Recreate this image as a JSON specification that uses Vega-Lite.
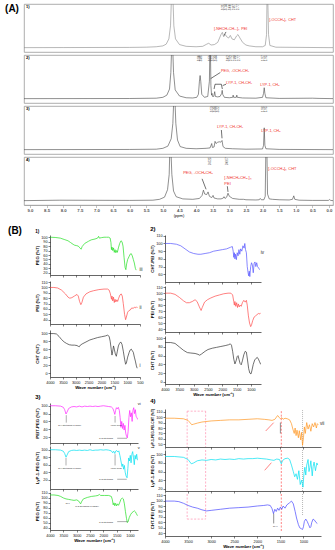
{
"$schema": "https://vega.github.io/schema/vega-lite/v6.json",
"padding": {"left": 4, "top": 3, "right": 2, "bottom": 2},
"config": {
  "font": "Liberation Sans",
  "view": {"stroke": null},
  "axis": {"grid": false, "domainColor": "#000", "domainWidth": 0.6, "tickColor": "#000", "tickWidth": 0.5, "tickSize": 2, "labelFontSize": 3.8, "labelPadding": 1, "labelColor": "#111", "titleFontSize": 4.3, "titleFontWeight": "bold", "titlePadding": 1.5, "labelOverlap": false, "labelFlush": false, "titleColor": "#000"},
  "title": {"fontSize": 6, "fontWeight": "bold", "anchor": "start", "offset": 2, "frame": "bounds"}
},
"datasets": {
  "nmr": [
    {"p":1,"x":9.18,"y":0},{"p":1,"x":8.0,"y":0.002},{"p":1,"x":6.0,"y":0.005},{"p":1,"x":5.5,"y":0.01},{"p":1,"x":5.2,"y":0.02},{"p":1,"x":5.0,"y":0.04},{"p":1,"x":4.9,"y":0.08},{"p":1,"x":4.82,"y":0.2},{"p":1,"x":4.77,"y":0.5},{"p":1,"x":4.74,"y":1.2},{"p":1,"x":4.7,"y":1.2},{"p":1,"x":4.67,"y":0.5},{"p":1,"x":4.62,"y":0.2},{"p":1,"x":4.5,"y":0.07},{"p":1,"x":4.3,"y":0.03},{"p":1,"x":4.0,"y":0.02},{"p":1,"x":3.8,"y":0.03},{"p":1,"x":3.68,"y":0.08},{"p":1,"x":3.62,"y":0.1},{"p":1,"x":3.55,"y":0.06},{"p":1,"x":3.45,"y":0.07},{"p":1,"x":3.35,"y":0.12},{"p":1,"x":3.25,"y":0.3},{"p":1,"x":3.21,"y":0.35},{"p":1,"x":3.17,"y":0.25},{"p":1,"x":3.12,"y":0.3},{"p":1,"x":3.08,"y":0.25},{"p":1,"x":3.02,"y":0.22},{"p":1,"x":2.97,"y":0.28},{"p":1,"x":2.92,"y":0.2},{"p":1,"x":2.85,"y":0.18},{"p":1,"x":2.78,"y":0.27},{"p":1,"x":2.74,"y":0.3},{"p":1,"x":2.68,"y":0.22},{"p":1,"x":2.6,"y":0.12},{"p":1,"x":2.5,"y":0.06},{"p":1,"x":2.4,"y":0.04},{"p":1,"x":2.2,"y":0.02},{"p":1,"x":2.0,"y":0.02},{"p":1,"x":1.92,"y":0.05},{"p":1,"x":1.88,"y":0.3},{"p":1,"x":1.865,"y":1.2},{"p":1,"x":1.845,"y":1.2},{"p":1,"x":1.82,"y":0.3},{"p":1,"x":1.78,"y":0.05},{"p":1,"x":1.6,"y":0.01},{"p":1,"x":0.0,"y":0.0},{"p":1,"x":-0.12,"y":0},
    {"p":2,"x":9.18,"y":0},{"p":2,"x":6,"y":0.003},{"p":2,"x":5.2,"y":0.01},{"p":2,"x":5.0,"y":0.03},{"p":2,"x":4.88,"y":0.08},{"p":2,"x":4.8,"y":0.22},{"p":2,"x":4.76,"y":0.6},{"p":2,"x":4.735,"y":1.2},{"p":2,"x":4.705,"y":1.2},{"p":2,"x":4.68,"y":0.6},{"p":2,"x":4.63,"y":0.2},{"p":2,"x":4.5,"y":0.06},{"p":2,"x":4.3,"y":0.02},{"p":2,"x":4.1,"y":0.015},{"p":2,"x":3.98,"y":0.03},{"p":2,"x":3.93,"y":0.1},{"p":2,"x":3.9,"y":0.4},{"p":2,"x":3.88,"y":0.53},{"p":2,"x":3.86,"y":0.4},{"p":2,"x":3.83,"y":0.1},{"p":2,"x":3.75,"y":0.03},{"p":2,"x":3.65,"y":0.05},{"p":2,"x":3.6,"y":0.4},{"p":2,"x":3.585,"y":1.2},{"p":2,"x":3.57,"y":1.2},{"p":2,"x":3.555,"y":0.3},{"p":2,"x":3.535,"y":0.08},{"p":2,"x":3.52,"y":0.12},{"p":2,"x":3.505,"y":0.05},{"p":2,"x":3.47,"y":0.05},{"p":2,"x":3.44,"y":0.16},{"p":2,"x":3.42,"y":0.05},{"p":2,"x":3.35,"y":0.04},{"p":2,"x":3.28,"y":0.05},{"p":2,"x":3.23,"y":0.12},{"p":2,"x":3.215,"y":0.19},{"p":2,"x":3.2,"y":0.1},{"p":2,"x":3.15,"y":0.03},{"p":2,"x":3.0,"y":0.02},{"p":2,"x":2.9,"y":0.03},{"p":2,"x":2.885,"y":0.08},{"p":2,"x":2.87,"y":0.03},{"p":2,"x":2.79,"y":0.03},{"p":2,"x":2.775,"y":0.08},{"p":2,"x":2.76,"y":0.03},{"p":2,"x":2.6,"y":0.015},{"p":2,"x":2.2,"y":0.01},{"p":2,"x":2.0,"y":0.03},{"p":2,"x":1.97,"y":0.12},{"p":2,"x":1.95,"y":0.25},{"p":2,"x":1.93,"y":0.12},{"p":2,"x":1.9,"y":0.02},{"p":2,"x":1.5,"y":0.005},{"p":2,"x":0.5,"y":0.01},{"p":2,"x":0.3,"y":0.005},{"p":2,"x":-0.12,"y":0},
    {"p":3,"x":9.18,"y":0},{"p":3,"x":6,"y":0.004},{"p":3,"x":5.2,"y":0.01},{"p":3,"x":5.0,"y":0.03},{"p":3,"x":4.85,"y":0.08},{"p":3,"x":4.75,"y":0.25},{"p":3,"x":4.7,"y":0.6},{"p":3,"x":4.67,"y":1.2},{"p":3,"x":4.64,"y":1.2},{"p":3,"x":4.61,"y":0.6},{"p":3,"x":4.56,"y":0.22},{"p":3,"x":4.48,"y":0.07},{"p":3,"x":4.3,"y":0.03},{"p":3,"x":4.0,"y":0.02},{"p":3,"x":3.7,"y":0.03},{"p":3,"x":3.58,"y":0.04},{"p":3,"x":3.53,"y":0.14},{"p":3,"x":3.51,"y":0.05},{"p":3,"x":3.46,"y":0.06},{"p":3,"x":3.43,"y":0.19},{"p":3,"x":3.4,"y":0.14},{"p":3,"x":3.35,"y":0.17},{"p":3,"x":3.3,"y":0.18},{"p":3,"x":3.26,"y":0.17},{"p":3,"x":3.22,"y":0.21},{"p":3,"x":3.19,"y":0.07},{"p":3,"x":3.12,"y":0.03},{"p":3,"x":2.9,"y":0.02},{"p":3,"x":2.5,"y":0.01},{"p":3,"x":2.0,"y":0.015},{"p":3,"x":1.97,"y":0.1},{"p":3,"x":1.95,"y":0.5},{"p":3,"x":1.93,"y":0.1},{"p":3,"x":1.9,"y":0.02},{"p":3,"x":1.5,"y":0.005},{"p":3,"x":-0.12,"y":0},
    {"p":4,"x":9.18,"y":0},{"p":4,"x":8.1,"y":0.01},{"p":4,"x":6,"y":0.005},{"p":4,"x":5.3,"y":0.01},{"p":4,"x":5.1,"y":0.03},{"p":4,"x":4.95,"y":0.08},{"p":4,"x":4.86,"y":0.25},{"p":4,"x":4.81,"y":0.6},{"p":4,"x":4.79,"y":1.2},{"p":4,"x":4.76,"y":1.2},{"p":4,"x":4.73,"y":0.6},{"p":4,"x":4.68,"y":0.22},{"p":4,"x":4.6,"y":0.09},{"p":4,"x":4.4,"y":0.04},{"p":4,"x":4.1,"y":0.03},{"p":4,"x":3.9,"y":0.05},{"p":4,"x":3.82,"y":0.12},{"p":4,"x":3.78,"y":0.24},{"p":4,"x":3.74,"y":0.15},{"p":4,"x":3.68,"y":0.14},{"p":4,"x":3.64,"y":0.2},{"p":4,"x":3.6,"y":0.1},{"p":4,"x":3.53,"y":0.07},{"p":4,"x":3.49,"y":0.12},{"p":4,"x":3.46,"y":0.06},{"p":4,"x":3.35,"y":0.04},{"p":4,"x":3.25,"y":0.04},{"p":4,"x":3.18,"y":0.06},{"p":4,"x":3.16,"y":0.09},{"p":4,"x":3.13,"y":0.05},{"p":4,"x":3.08,"y":0.08},{"p":4,"x":3.04,"y":0.17},{"p":4,"x":3.0,"y":0.1},{"p":4,"x":2.9,"y":0.05},{"p":4,"x":2.7,"y":0.03},{"p":4,"x":2.57,"y":0.03},{"p":4,"x":2.5,"y":0.02},{"p":4,"x":2.2,"y":0.015},{"p":4,"x":2.1,"y":0.02},{"p":4,"x":2.07,"y":0.05},{"p":4,"x":2.04,"y":0.02},{"p":4,"x":1.96,"y":0.02},{"p":4,"x":1.92,"y":0.1},{"p":4,"x":1.9,"y":1.2},{"p":4,"x":1.87,"y":1.2},{"p":4,"x":1.85,"y":0.15},{"p":4,"x":1.8,"y":0.04},{"p":4,"x":1.7,"y":0.03},{"p":4,"x":1.5,"y":0.02},{"p":4,"x":1.2,"y":0.015},{"p":4,"x":1.1,"y":0.03},{"p":4,"x":1.06,"y":0.11},{"p":4,"x":1.03,"y":0.03},{"p":4,"x":0.9,"y":0.01},{"p":4,"x":0.5,"y":0.005},{"p":4,"x":0.02,"y":0.005},{"p":4,"x":-0.02,"y":0.025},{"p":4,"x":-0.05,"y":0.005},{"p":4,"x":-0.12,"y":0}
  ],
  "nmrLab": [
    {"p":1,"x":3.46,"y":0.43,"t":"[-NHCH₂CH₂-]ₙ PEI"},
    {"p":1,"x":1.8,"y":0.63,"t":"[-OCCH₃]ₙ CHT"},
    {"p":2,"x":3.25,"y":0.63,"t":"PEG, -OCH₂CH₂"},
    {"p":2,"x":3.1,"y":0.36,"t":"LYP-1, CH₂CH₂"},
    {"p":2,"x":2.07,"y":0.31,"t":"LYP-1, CH₃"},
    {"p":3,"x":3.37,"y":0.52,"t":"LYP-1, CH₂CH₂"},
    {"p":3,"x":2.04,"y":0.43,"t":"LYP-1, CH₃"},
    {"p":4,"x":4.39,"y":0.63,"t":"PEG, -OCH₂CH₂"},
    {"p":4,"x":3.15,"y":0.52,"t":"[-NHCH₂CH₂-]ₙ"},
    {"p":4,"x":3.15,"y":0.38,"t":"PEI"},
    {"p":4,"x":1.83,"y":0.72,"t":"[-OCCH₃]ₙ CHT"}
  ],
  "nmrNum": [
    {"p":1,"x":3.19,"y":0.99,"t":"3.21"},{"p":1,"x":3.1,"y":0.99,"t":"3.14"},{"p":1,"x":2.98,"y":0.99,"t":"3.00"},{"p":1,"x":2.86,"y":0.99,"t":"2.87"},{"p":1,"x":2.76,"y":0.99,"t":"2.77"},
    {"p":2,"x":3.91,"y":0.99,"t":"3.90"},{"p":2,"x":3.85,"y":0.99,"t":"3.86"},{"p":2,"x":3.58,"y":0.99,"t":"3.59"},{"p":2,"x":3.5,"y":0.99,"t":"3.52"},{"p":2,"x":3.42,"y":0.99,"t":"3.44"},{"p":2,"x":3.04,"y":0.99,"t":"3.02"},{"p":2,"x":2.95,"y":0.99,"t":"2.92"},{"p":2,"x":2.83,"y":0.99,"t":"2.88"},{"p":2,"x":2.72,"y":0.99,"t":"2.77"},{"p":2,"x":2.0,"y":0.99,"t":"1.97"},{"p":2,"x":1.91,"y":0.99,"t":"1.95"},
    {"p":3,"x":3.52,"y":0.99,"t":"3.53"},{"p":3,"x":3.43,"y":0.99,"t":"3.44"},{"p":3,"x":3.34,"y":0.99,"t":"3.22"},{"p":3,"x":2.0,"y":0.99,"t":"1.96"},{"p":3,"x":1.92,"y":0.99,"t":"1.95"},
    {"p":4,"x":3.58,"y":0.99,"t":"3.625"},{"p":4,"x":3.07,"y":0.99,"t":"3.067"}
  ],
  "nmrArrow": [
    {"p":1,"x":3.1,"y":0.36,"x2":3.16,"y2":0.28},
    {"p":2,"x":3.27,"y":0.6,"x2":3.56,"y2":0.46},
    {"p":2,"x":3.46,"y":0.22,"x2":3.43,"y2":0.33},{"p":2,"x":3.43,"y":0.33,"x2":3.24,"y2":0.33},{"p":2,"x":3.24,"y":0.33,"x2":3.21,"y2":0.22},{"p":2,"x":3.1,"y":0.33,"x2":3.2,"y2":0.3},
    {"p":3,"x":3.24,"y":0.45,"x2":3.22,"y2":0.26},
    {"p":4,"x":3.82,"y":0.5,"x2":3.7,"y2":0.26},{"p":4,"x":3.06,"y":0.33,"x2":3.04,"y2":0.2}
  ],
  "nmrPanel": [
    {"p":1,"x":9.12,"y":0.97,"t":"1)"},{"p":2,"x":9.12,"y":0.97,"t":"2)"},{"p":3,"x":9.12,"y":0.97,"t":"3)"},{"p":4,"x":9.12,"y":0.97,"t":"4)"}
  ],
  "ftir": [
    {"s":"1a","x":4000,"y":100},{"s":"1a","x":3800,"y":99.5},{"s":"1a","x":3600,"y":98},{"s":"1a","x":3450,"y":95},{"s":"1a","x":3300,"y":92},{"s":"1a","x":3200,"y":88},{"s":"1a","x":3100,"y":84},{"s":"1a","x":3040,"y":82},{"s":"1a","x":2960,"y":81},{"s":"1a","x":2900,"y":80},{"s":"1a","x":2840,"y":76},{"s":"1a","x":2790,"y":73},{"s":"1a","x":2750,"y":79},{"s":"1a","x":2650,"y":86},{"s":"1a","x":2500,"y":91},{"s":"1a","x":2400,"y":94},{"s":"1a","x":2250,"y":96},{"s":"1a","x":2150,"y":98},{"s":"1a","x":2110,"y":102},{"s":"1a","x":2080,"y":98},{"s":"1a","x":2000,"y":99},{"s":"1a","x":1900,"y":100},{"s":"1a","x":1800,"y":100},{"s":"1a","x":1720,"y":100},{"s":"1a","x":1660,"y":98},{"s":"1a","x":1630,"y":88},{"s":"1a","x":1610,"y":72},{"s":"1a","x":1590,"y":78},{"s":"1a","x":1560,"y":70},{"s":"1a","x":1530,"y":76},{"s":"1a","x":1500,"y":66},{"s":"1a","x":1470,"y":72},{"s":"1a","x":1440,"y":65},{"s":"1a","x":1410,"y":70},{"s":"1a","x":1380,"y":66},{"s":"1a","x":1340,"y":76},{"s":"1a","x":1290,"y":86},{"s":"1a","x":1240,"y":92},{"s":"1a","x":1200,"y":90},{"s":"1a","x":1160,"y":80},{"s":"1a","x":1120,"y":55},{"s":"1a","x":1080,"y":32},{"s":"1a","x":1050,"y":27},{"s":"1a","x":1020,"y":40},{"s":"1a","x":980,"y":50},{"s":"1a","x":930,"y":56},{"s":"1a","x":880,"y":62},{"s":"1a","x":840,"y":63},{"s":"1a","x":800,"y":58},{"s":"1a","x":760,"y":50},{"s":"1a","x":720,"y":42},{"s":"1a","x":680,"y":30},{"s":"1a","x":650,"y":26},
    {"s":"1b","x":4000,"y":100},{"s":"1b","x":3850,"y":100},{"s":"1b","x":3700,"y":99},{"s":"1b","x":3550,"y":95},{"s":"1b","x":3400,"y":88},{"s":"1b","x":3300,"y":82},{"s":"1b","x":3230,"y":80},{"s":"1b","x":3150,"y":81},{"s":"1b","x":3050,"y":84},{"s":"1b","x":2950,"y":87},{"s":"1b","x":2900,"y":84},{"s":"1b","x":2850,"y":74},{"s":"1b","x":2800,"y":68},{"s":"1b","x":2760,"y":72},{"s":"1b","x":2700,"y":82},{"s":"1b","x":2600,"y":88},{"s":"1b","x":2450,"y":92},{"s":"1b","x":2300,"y":94},{"s":"1b","x":2100,"y":96},{"s":"1b","x":1900,"y":97},{"s":"1b","x":1760,"y":97},{"s":"1b","x":1700,"y":95},{"s":"1b","x":1650,"y":88},{"s":"1b","x":1610,"y":78},{"s":"1b","x":1590,"y":84},{"s":"1b","x":1560,"y":75},{"s":"1b","x":1530,"y":82},{"s":"1b","x":1500,"y":72},{"s":"1b","x":1470,"y":78},{"s":"1b","x":1440,"y":73},{"s":"1b","x":1400,"y":77},{"s":"1b","x":1370,"y":74},{"s":"1b","x":1330,"y":80},{"s":"1b","x":1280,"y":86},{"s":"1b","x":1230,"y":88},{"s":"1b","x":1190,"y":84},{"s":"1b","x":1150,"y":70},{"s":"1b","x":1100,"y":50},{"s":"1b","x":1060,"y":40},{"s":"1b","x":1030,"y":45},{"s":"1b","x":980,"y":54},{"s":"1b","x":930,"y":57},{"s":"1b","x":880,"y":58},{"s":"1b","x":820,"y":62},{"s":"1b","x":770,"y":61},{"s":"1b","x":720,"y":63},{"s":"1b","x":680,"y":62},{"s":"1b","x":640,"y":64},{"s":"1b","x":600,"y":62},
    {"s":"1c","x":4000,"y":99},{"s":"1c","x":3850,"y":99},{"s":"1c","x":3750,"y":98},{"s":"1c","x":3650,"y":92},{"s":"1c","x":3550,"y":84},{"s":"1c","x":3450,"y":78},{"s":"1c","x":3350,"y":74},{"s":"1c","x":3250,"y":71},{"s":"1c","x":3150,"y":70},{"s":"1c","x":3050,"y":70},{"s":"1c","x":2950,"y":69},{"s":"1c","x":2900,"y":67},{"s":"1c","x":2860,"y":66},{"s":"1c","x":2820,"y":70},{"s":"1c","x":2750,"y":73},{"s":"1c","x":2600,"y":78},{"s":"1c","x":2450,"y":83},{"s":"1c","x":2300,"y":86},{"s":"1c","x":2150,"y":89},{"s":"1c","x":2000,"y":91},{"s":"1c","x":1850,"y":93},{"s":"1c","x":1760,"y":95},{"s":"1c","x":1700,"y":92},{"s":"1c","x":1660,"y":80},{"s":"1c","x":1620,"y":60},{"s":"1c","x":1590,"y":45},{"s":"1c","x":1560,"y":55},{"s":"1c","x":1530,"y":68},{"s":"1c","x":1500,"y":60},{"s":"1c","x":1460,"y":48},{"s":"1c","x":1420,"y":42},{"s":"1c","x":1380,"y":55},{"s":"1c","x":1340,"y":68},{"s":"1c","x":1300,"y":74},{"s":"1c","x":1250,"y":78},{"s":"1c","x":1200,"y":72},{"s":"1c","x":1150,"y":55},{"s":"1c","x":1100,"y":35},{"s":"1c","x":1060,"y":22},{"s":"1c","x":1030,"y":25},{"s":"1c","x":980,"y":40},{"s":"1c","x":920,"y":52},{"s":"1c","x":880,"y":58},{"s":"1c","x":840,"y":60},{"s":"1c","x":800,"y":56},{"s":"1c","x":760,"y":52},{"s":"1c","x":720,"y":40},{"s":"1c","x":680,"y":30},{"s":"1c","x":640,"y":18},{"s":"1c","x":610,"y":12},
    {"s":"2a","x":4000,"y":100},{"s":"2a","x":3800,"y":100},{"s":"2a","x":3600,"y":99},{"s":"2a","x":3450,"y":97},{"s":"2a","x":3300,"y":93},{"s":"2a","x":3150,"y":89},{"s":"2a","x":3000,"y":87},{"s":"2a","x":2850,"y":86},{"s":"2a","x":2750,"y":86},{"s":"2a","x":2600,"y":87},{"s":"2a","x":2450,"y":88},{"s":"2a","x":2300,"y":90},{"s":"2a","x":2150,"y":91},{"s":"2a","x":2000,"y":92},{"s":"2a","x":1850,"y":93},{"s":"2a","x":1720,"y":95},{"s":"2a","x":1650,"y":96},{"s":"2a","x":1620,"y":90},{"s":"2a","x":1600,"y":82},{"s":"2a","x":1580,"y":88},{"s":"2a","x":1560,"y":80},{"s":"2a","x":1540,"y":86},{"s":"2a","x":1510,"y":79},{"s":"2a","x":1480,"y":88},{"s":"2a","x":1450,"y":84},{"s":"2a","x":1420,"y":92},{"s":"2a","x":1390,"y":86},{"s":"2a","x":1360,"y":93},{"s":"2a","x":1320,"y":90},{"s":"2a","x":1280,"y":97},{"s":"2a","x":1240,"y":94},{"s":"2a","x":1215,"y":100},{"s":"2a","x":1190,"y":92},{"s":"2a","x":1160,"y":88},{"s":"2a","x":1130,"y":70},{"s":"2a","x":1100,"y":62},{"s":"2a","x":1080,"y":58},{"s":"2a","x":1060,"y":64},{"s":"2a","x":1040,"y":57},{"s":"2a","x":1010,"y":70},{"s":"2a","x":980,"y":75},{"s":"2a","x":950,"y":72},{"s":"2a","x":920,"y":62},{"s":"2a","x":890,"y":74},{"s":"2a","x":860,"y":76},{"s":"2a","x":830,"y":70},{"s":"2a","x":800,"y":75},{"s":"2a","x":770,"y":70},{"s":"2a","x":730,"y":68},{"s":"2a","x":700,"y":66},
    {"s":"2b","x":4000,"y":100},{"s":"2b","x":3800,"y":100},{"s":"2b","x":3650,"y":98},{"s":"2b","x":3500,"y":93},{"s":"2b","x":3350,"y":87},{"s":"2b","x":3250,"y":84},{"s":"2b","x":3150,"y":84},{"s":"2b","x":3050,"y":86},{"s":"2b","x":2950,"y":89},{"s":"2b","x":2880,"y":86},{"s":"2b","x":2800,"y":77},{"s":"2b","x":2740,"y":71},{"s":"2b","x":2700,"y":76},{"s":"2b","x":2620,"y":85},{"s":"2b","x":2520,"y":89},{"s":"2b","x":2400,"y":92},{"s":"2b","x":2250,"y":95},{"s":"2b","x":2100,"y":97},{"s":"2b","x":1950,"y":99},{"s":"2b","x":1800,"y":100},{"s":"2b","x":1700,"y":100},{"s":"2b","x":1640,"y":97},{"s":"2b","x":1600,"y":86},{"s":"2b","x":1580,"y":80},{"s":"2b","x":1560,"y":86},{"s":"2b","x":1530,"y":78},{"s":"2b","x":1500,"y":84},{"s":"2b","x":1470,"y":76},{"s":"2b","x":1440,"y":82},{"s":"2b","x":1410,"y":77},{"s":"2b","x":1380,"y":80},{"s":"2b","x":1340,"y":78},{"s":"2b","x":1300,"y":84},{"s":"2b","x":1250,"y":88},{"s":"2b","x":1200,"y":85},{"s":"2b","x":1160,"y":88},{"s":"2b","x":1130,"y":80},{"s":"2b","x":1090,"y":62},{"s":"2b","x":1050,"y":50},{"s":"2b","x":1010,"y":44},{"s":"2b","x":980,"y":47},{"s":"2b","x":940,"y":54},{"s":"2b","x":890,"y":60},{"s":"2b","x":840,"y":62},{"s":"2b","x":790,"y":64},{"s":"2b","x":740,"y":66},{"s":"2b","x":700,"y":65},{"s":"2b","x":670,"y":67},
    {"s":"2c","x":4000,"y":90},{"s":"2c","x":3800,"y":90},{"s":"2c","x":3650,"y":88},{"s":"2c","x":3500,"y":80},{"s":"2c","x":3350,"y":72},{"s":"2c","x":3220,"y":67},{"s":"2c","x":3100,"y":66},{"s":"2c","x":2950,"y":65},{"s":"2c","x":2850,"y":63},{"s":"2c","x":2790,"y":61},{"s":"2c","x":2720,"y":64},{"s":"2c","x":2600,"y":70},{"s":"2c","x":2500,"y":74},{"s":"2c","x":2350,"y":77},{"s":"2c","x":2200,"y":79},{"s":"2c","x":2050,"y":81},{"s":"2c","x":1900,"y":83},{"s":"2c","x":1780,"y":85},{"s":"2c","x":1720,"y":87},{"s":"2c","x":1680,"y":84},{"s":"2c","x":1640,"y":70},{"s":"2c","x":1600,"y":52},{"s":"2c","x":1560,"y":41},{"s":"2c","x":1520,"y":48},{"s":"2c","x":1480,"y":58},{"s":"2c","x":1450,"y":60},{"s":"2c","x":1420,"y":52},{"s":"2c","x":1380,"y":42},{"s":"2c","x":1340,"y":39},{"s":"2c","x":1300,"y":48},{"s":"2c","x":1250,"y":62},{"s":"2c","x":1200,"y":70},{"s":"2c","x":1160,"y":68},{"s":"2c","x":1120,"y":50},{"s":"2c","x":1080,"y":30},{"s":"2c","x":1040,"y":20},{"s":"2c","x":1000,"y":18},{"s":"2c","x":970,"y":25},{"s":"2c","x":920,"y":40},{"s":"2c","x":870,"y":50},{"s":"2c","x":820,"y":54},{"s":"2c","x":780,"y":56},{"s":"2c","x":740,"y":52},{"s":"2c","x":700,"y":46},{"s":"2c","x":660,"y":40},
    {"s":"3a","x":4000,"y":100},{"s":"3a","x":3800,"y":100},{"s":"3a","x":3600,"y":99},{"s":"3a","x":3500,"y":96},{"s":"3a","x":3450,"y":90},{"s":"3a","x":3400,"y":79},{"s":"3a","x":3360,"y":84},{"s":"3a","x":3300,"y":93},{"s":"3a","x":3200,"y":97},{"s":"3a","x":3100,"y":98},{"s":"3a","x":3000,"y":97},{"s":"3a","x":2900,"y":99},{"s":"3a","x":2800,"y":97},{"s":"3a","x":2700,"y":99},{"s":"3a","x":2600,"y":98},{"s":"3a","x":2500,"y":99},{"s":"3a","x":2400,"y":98},{"s":"3a","x":2300,"y":99},{"s":"3a","x":2200,"y":98},{"s":"3a","x":2100,"y":99},{"s":"3a","x":2000,"y":100},{"s":"3a","x":1900,"y":99},{"s":"3a","x":1800,"y":98},{"s":"3a","x":1700,"y":97},{"s":"3a","x":1640,"y":93},{"s":"3a","x":1600,"y":85},{"s":"3a","x":1570,"y":78},{"s":"3a","x":1540,"y":88},{"s":"3a","x":1510,"y":95},{"s":"3a","x":1480,"y":92},{"s":"3a","x":1440,"y":96},{"s":"3a","x":1400,"y":88},{"s":"3a","x":1370,"y":70},{"s":"3a","x":1340,"y":45},{"s":"3a","x":1310,"y":60},{"s":"3a","x":1280,"y":42},{"s":"3a","x":1250,"y":55},{"s":"3a","x":1220,"y":38},{"s":"3a","x":1190,"y":50},{"s":"3a","x":1160,"y":30},{"s":"3a","x":1130,"y":22},{"s":"3a","x":1100,"y":18},{"s":"3a","x":1070,"y":35},{"s":"3a","x":1040,"y":70},{"s":"3a","x":1010,"y":88},{"s":"3a","x":980,"y":72},{"s":"3a","x":950,"y":82},{"s":"3a","x":920,"y":60},{"s":"3a","x":890,"y":88},{"s":"3a","x":860,"y":95},{"s":"3a","x":830,"y":80},{"s":"3a","x":800,"y":90},{"s":"3a","x":770,"y":72},{"s":"3a","x":740,"y":70},{"s":"3a","x":710,"y":65},
    {"s":"3b","x":4000,"y":100},{"s":"3b","x":3800,"y":100},{"s":"3b","x":3600,"y":99},{"s":"3b","x":3500,"y":96},{"s":"3b","x":3450,"y":90},{"s":"3b","x":3400,"y":80},{"s":"3b","x":3360,"y":86},{"s":"3b","x":3300,"y":95},{"s":"3b","x":3200,"y":98},{"s":"3b","x":3100,"y":99},{"s":"3b","x":3000,"y":98},{"s":"3b","x":2900,"y":99},{"s":"3b","x":2800,"y":98},{"s":"3b","x":2700,"y":99},{"s":"3b","x":2600,"y":98},{"s":"3b","x":2500,"y":100},{"s":"3b","x":2400,"y":98},{"s":"3b","x":2300,"y":99},{"s":"3b","x":2200,"y":99},{"s":"3b","x":2100,"y":100},{"s":"3b","x":2000,"y":99},{"s":"3b","x":1900,"y":100},{"s":"3b","x":1800,"y":99},{"s":"3b","x":1700,"y":97},{"s":"3b","x":1650,"y":92},{"s":"3b","x":1610,"y":96},{"s":"3b","x":1570,"y":90},{"s":"3b","x":1540,"y":96},{"s":"3b","x":1500,"y":98},{"s":"3b","x":1460,"y":94},{"s":"3b","x":1420,"y":97},{"s":"3b","x":1380,"y":85},{"s":"3b","x":1340,"y":70},{"s":"3b","x":1300,"y":55},{"s":"3b","x":1270,"y":62},{"s":"3b","x":1240,"y":48},{"s":"3b","x":1210,"y":58},{"s":"3b","x":1180,"y":40},{"s":"3b","x":1150,"y":30},{"s":"3b","x":1110,"y":25},{"s":"3b","x":1080,"y":50},{"s":"3b","x":1050,"y":78},{"s":"3b","x":1020,"y":70},{"s":"3b","x":990,"y":85},{"s":"3b","x":960,"y":65},{"s":"3b","x":930,"y":88},{"s":"3b","x":900,"y":95},{"s":"3b","x":870,"y":80},{"s":"3b","x":840,"y":60},{"s":"3b","x":810,"y":85},{"s":"3b","x":780,"y":75},{"s":"3b","x":750,"y":88},{"s":"3b","x":720,"y":72},
    {"s":"3c","x":4000,"y":106},{"s":"3c","x":3850,"y":106},{"s":"3c","x":3700,"y":105},{"s":"3c","x":3600,"y":103},{"s":"3c","x":3500,"y":100},{"s":"3c","x":3400,"y":98},{"s":"3c","x":3300,"y":97},{"s":"3c","x":3200,"y":96},{"s":"3c","x":3100,"y":95},{"s":"3c","x":3000,"y":96},{"s":"3c","x":2930,"y":94},{"s":"3c","x":2880,"y":90},{"s":"3c","x":2850,"y":88},{"s":"3c","x":2820,"y":92},{"s":"3c","x":2750,"y":98},{"s":"3c","x":2600,"y":101},{"s":"3c","x":2450,"y":103},{"s":"3c","x":2300,"y":104},{"s":"3c","x":2200,"y":105},{"s":"3c","x":2150,"y":107},{"s":"3c","x":2100,"y":105},{"s":"3c","x":1950,"y":105},{"s":"3c","x":1800,"y":105},{"s":"3c","x":1700,"y":103},{"s":"3c","x":1660,"y":96},{"s":"3c","x":1630,"y":86},{"s":"3c","x":1600,"y":90},{"s":"3c","x":1570,"y":84},{"s":"3c","x":1540,"y":89},{"s":"3c","x":1500,"y":84},{"s":"3c","x":1470,"y":88},{"s":"3c","x":1430,"y":85},{"s":"3c","x":1390,"y":90},{"s":"3c","x":1340,"y":97},{"s":"3c","x":1290,"y":100},{"s":"3c","x":1250,"y":98},{"s":"3c","x":1210,"y":88},{"s":"3c","x":1170,"y":72},{"s":"3c","x":1130,"y":58},{"s":"3c","x":1100,"y":50},{"s":"3c","x":1070,"y":52},{"s":"3c","x":1030,"y":60},{"s":"3c","x":980,"y":66},{"s":"3c","x":930,"y":70},{"s":"3c","x":880,"y":72},{"s":"3c","x":840,"y":74},{"s":"3c","x":800,"y":72},{"s":"3c","x":760,"y":68},{"s":"3c","x":720,"y":64},
    {"s":"4a","x":4000,"y":98},{"s":"4a","x":3800,"y":98},{"s":"4a","x":3600,"y":97},{"s":"4a","x":3500,"y":94},{"s":"4a","x":3420,"y":86},{"s":"4a","x":3380,"y":87},{"s":"4a","x":3300,"y":89},{"s":"4a","x":3200,"y":91},{"s":"4a","x":3000,"y":93},{"s":"4a","x":2800,"y":94},{"s":"4a","x":2600,"y":95},{"s":"4a","x":2400,"y":95},{"s":"4a","x":2200,"y":96},{"s":"4a","x":2000,"y":97},{"s":"4a","x":1850,"y":96},{"s":"4a","x":1750,"y":95},{"s":"4a","x":1680,"y":94},{"s":"4a","x":1620,"y":96},{"s":"4a","x":1560,"y":103},{"s":"4a","x":1530,"y":100},{"s":"4a","x":1500,"y":97},{"s":"4a","x":1470,"y":99},{"s":"4a","x":1440,"y":96},{"s":"4a","x":1400,"y":98},{"s":"4a","x":1350,"y":97},{"s":"4a","x":1300,"y":95},{"s":"4a","x":1260,"y":88},{"s":"4a","x":1230,"y":78},{"s":"4a","x":1200,"y":70},{"s":"4a","x":1180,"y":80},{"s":"4a","x":1160,"y":66},{"s":"4a","x":1140,"y":76},{"s":"4a","x":1110,"y":62},{"s":"4a","x":1090,"y":75},{"s":"4a","x":1060,"y":58},{"s":"4a","x":1040,"y":72},{"s":"4a","x":1020,"y":48},{"s":"4a","x":1000,"y":62},{"s":"4a","x":980,"y":82},{"s":"4a","x":960,"y":70},{"s":"4a","x":930,"y":90},{"s":"4a","x":900,"y":78},{"s":"4a","x":870,"y":86},{"s":"4a","x":840,"y":74},{"s":"4a","x":810,"y":88},{"s":"4a","x":780,"y":82},{"s":"4a","x":750,"y":90},{"s":"4a","x":720,"y":80},{"s":"4a","x":700,"y":88},{"s":"4a","x":680,"y":86},
    {"s":"4b","x":4000,"y":95},{"s":"4b","x":3800,"y":95},{"s":"4b","x":3600,"y":93},{"s":"4b","x":3500,"y":88},{"s":"4b","x":3430,"y":78},{"s":"4b","x":3380,"y":80},{"s":"4b","x":3300,"y":85},{"s":"4b","x":3200,"y":87},{"s":"4b","x":3100,"y":86},{"s":"4b","x":3000,"y":88},{"s":"4b","x":2900,"y":87},{"s":"4b","x":2800,"y":89},{"s":"4b","x":2700,"y":88},{"s":"4b","x":2600,"y":89},{"s":"4b","x":2500,"y":88},{"s":"4b","x":2400,"y":90},{"s":"4b","x":2300,"y":89},{"s":"4b","x":2200,"y":90},{"s":"4b","x":2100,"y":90},{"s":"4b","x":2000,"y":91},{"s":"4b","x":1900,"y":90},{"s":"4b","x":1800,"y":89},{"s":"4b","x":1700,"y":87},{"s":"4b","x":1640,"y":86},{"s":"4b","x":1580,"y":89},{"s":"4b","x":1520,"y":88},{"s":"4b","x":1480,"y":78},{"s":"4b","x":1450,"y":86},{"s":"4b","x":1400,"y":90},{"s":"4b","x":1340,"y":91},{"s":"4b","x":1300,"y":88},{"s":"4b","x":1260,"y":75},{"s":"4b","x":1220,"y":60},{"s":"4b","x":1190,"y":48},{"s":"4b","x":1160,"y":55},{"s":"4b","x":1130,"y":42},{"s":"4b","x":1100,"y":62},{"s":"4b","x":1070,"y":30},{"s":"4b","x":1040,"y":40},{"s":"4b","x":1010,"y":24},{"s":"4b","x":990,"y":55},{"s":"4b","x":970,"y":70},{"s":"4b","x":950,"y":52},{"s":"4b","x":930,"y":75},{"s":"4b","x":900,"y":88},{"s":"4b","x":880,"y":60},{"s":"4b","x":860,"y":70},{"s":"4b","x":840,"y":85},{"s":"4b","x":810,"y":50},{"s":"4b","x":790,"y":72},{"s":"4b","x":770,"y":82},{"s":"4b","x":740,"y":62},{"s":"4b","x":710,"y":80},{"s":"4b","x":690,"y":75},
    {"s":"4c","x":4000,"y":99},{"s":"4c","x":3800,"y":99},{"s":"4c","x":3700,"y":98},{"s":"4c","x":3600,"y":95},{"s":"4c","x":3500,"y":91},{"s":"4c","x":3400,"y":88},{"s":"4c","x":3300,"y":86},{"s":"4c","x":3200,"y":83},{"s":"4c","x":3100,"y":81},{"s":"4c","x":3000,"y":82},{"s":"4c","x":2800,"y":84},{"s":"4c","x":2600,"y":86},{"s":"4c","x":2400,"y":87},{"s":"4c","x":2200,"y":88},{"s":"4c","x":2000,"y":90},{"s":"4c","x":1860,"y":91},{"s":"4c","x":1780,"y":92},{"s":"4c","x":1720,"y":91},{"s":"4c","x":1680,"y":85},{"s":"4c","x":1650,"y":76},{"s":"4c","x":1620,"y":84},{"s":"4c","x":1590,"y":80},{"s":"4c","x":1560,"y":86},{"s":"4c","x":1530,"y":82},{"s":"4c","x":1500,"y":88},{"s":"4c","x":1470,"y":84},{"s":"4c","x":1440,"y":90},{"s":"4c","x":1400,"y":86},{"s":"4c","x":1360,"y":92},{"s":"4c","x":1300,"y":96},{"s":"4c","x":1260,"y":99},{"s":"4c","x":1220,"y":94},{"s":"4c","x":1180,"y":80},{"s":"4c","x":1150,"y":68},{"s":"4c","x":1110,"y":56},{"s":"4c","x":1080,"y":50},{"s":"4c","x":1040,"y":48},{"s":"4c","x":1020,"y":47},{"s":"4c","x":1000,"y":52},{"s":"4c","x":980,"y":62},{"s":"4c","x":950,"y":66},{"s":"4c","x":920,"y":62},{"s":"4c","x":890,"y":56},{"s":"4c","x":860,"y":50},{"s":"4c","x":840,"y":52},{"s":"4c","x":820,"y":60},{"s":"4c","x":790,"y":66},{"s":"4c","x":760,"y":64},{"s":"4c","x":730,"y":60},{"s":"4c","x":700,"y":58}
  ],
  "ftirTxt": [
    {"s":"3a","x":3262,"y":51,"t":"N-H stretching of amine"},{"s":"3a","x":1525,"y":51,"t":"Amide bond"},{"s":"3a","x":1900,"y":17,"t":"C-O stretching"},
    {"s":"3b","x":3262,"y":52,"t":"N-H stretching of amine"},{"s":"3b","x":1525,"y":52,"t":"Amide bond"},{"s":"3b","x":1900,"y":21,"t":"C-O stretching"},
    {"s":"3c","x":3330,"y":90,"t":"NH₂"},{"s":"3c","x":2612,"y":83,"t":"C-O stretching of COOH"},{"s":"3c","x":1900,"y":52,"t":"C-O stretching"},
    {"s":"4c","x":1610,"y":53,"t":"N-H"}
  ],
  "ftirNum": [
    {"s":"1a","x":520,"y":26,"t":"iii"},{"s":"1b","x":520,"y":62,"t":"ii"},{"s":"1c","x":520,"y":17,"t":"i"},
    {"s":"2a","x":660,"y":87,"t":"iv"},{"s":"3a","x":710,"y":104,"t":"vi"},{"s":"3b","x":710,"y":104,"t":"v"},{"s":"4a","x":640,"y":87,"t":"vii"}
  ],
  "ftirRule": [
    {"k":"line","s":"3a","x":3390,"y":57,"x2":3390,"y2":76},{"k":"line","s":"3a","x":1560,"y":57,"x2":1560,"y2":74},{"k":"line","s":"3a","x":1480,"y":17,"x2":1110,"y2":17},
    {"k":"line","s":"3b","x":3400,"y":58,"x2":3400,"y2":78},{"k":"line","s":"3b","x":1560,"y":58,"x2":1560,"y2":88},{"k":"line","s":"3b","x":1480,"y":21,"x2":1120,"y2":21},
    {"k":"line","s":"3c","x":1480,"y":52,"x2":1090,"y2":52},
    {"k":"line","s":"4a","x":1500,"y":90,"x2":1500,"y2":70},{"k":"line","s":"4c","x":1645,"y":76,"x2":1645,"y2":58},
    {"k":"pink","s":"4a","x":3520,"y":111,"x2":3520,"y2":45},{"k":"pink","s":"4a","x":3120,"y":111,"x2":3120,"y2":45},{"k":"pink","s":"4a","x":3520,"y":111,"x2":3120,"y2":111},
    {"k":"pink","s":"4b","x":3520,"y":110,"x2":3520,"y2":15},{"k":"pink","s":"4b","x":3120,"y":110,"x2":3120,"y2":15},
    {"k":"pink","s":"4c","x":3520,"y":112,"x2":3520,"y2":66},{"k":"pink","s":"4c","x":3120,"y":112,"x2":3120,"y2":66},{"k":"pink","s":"4c","x":3520,"y":66,"x2":3120,"y2":66},
    {"k":"red","s":"4a","x":1480,"y":111,"x2":1480,"y2":45},{"k":"red","s":"4b","x":1480,"y":110,"x2":1480,"y2":15},{"k":"red","s":"4c","x":1480,"y":112,"x2":1480,"y2":44},
    {"k":"grey","s":"4a","x":1020,"y":113,"x2":1020,"y2":45},{"k":"grey","s":"4b","x":1020,"y":110,"x2":1020,"y2":15},{"k":"grey","s":"4c","x":1020,"y":112,"x2":1020,"y2":72},
    {"k":"arrow","s":"4a","x":1818,"y":74.5,"x2":1646,"y2":89.8},{"k":"arrow","s":"4b","x":1840,"y":63,"x2":1695,"y2":80.6}
  ]
},
"spacing": 7,
"vconcat": [
  {
    "spacing": 3,
    "hconcat": [
      {"width": 16, "height": 10, "data": {"values": [{"t": "(A)"}]}, "mark": {"type": "text", "fontSize": 10, "fontWeight": "bold", "align": "center", "baseline": "middle", "color": "#000"}, "encoding": {"text": {"field": "t"}}},
      {
        "bounds": "flush", "spacing": 3,
        "vconcat": [
          {"width": 309, "height": 48, "view": {"stroke": "#999", "strokeWidth": 0.8},
           "encoding": {"x": {"field": "x", "type": "quantitative", "scale": {"domain": [-0.12, 9.18], "reverse": true, "nice": false, "zero": false}, "axis": null},
                        "y": {"field": "y", "type": "quantitative", "scale": {"domain": [-0.1, 1], "nice": false, "zero": false}, "axis": null}},
           "layer": [
             {"data": {"name": "nmr"}, "transform": [{"filter": "datum.p==1"}], "mark": {"type": "line", "color": "#888", "strokeWidth": 0.6, "clip": true}},
             {"data": {"name": "nmrLab"}, "transform": [{"filter": "datum.p==1"}], "mark": {"type": "text", "color": "#f0302a", "fontSize": 3.8, "align": "left", "baseline": "middle"}, "encoding": {"text": {"field": "t"}}},
             {"data": {"name": "nmrNum"}, "transform": [{"filter": "datum.p==1"}], "mark": {"type": "text", "color": "#333", "fontSize": 3, "angle": 270, "align": "right", "baseline": "middle"}, "encoding": {"text": {"field": "t"}}},
             {"data": {"name": "nmrArrow"}, "transform": [{"filter": "datum.p==1"}], "mark": {"type": "rule", "color": "#111", "strokeWidth": 0.6}, "encoding": {"x2": {"field": "x2"}, "y2": {"field": "y2"}}},
             {"data": {"name": "nmrPanel"}, "transform": [{"filter": "datum.p==1"}], "mark": {"type": "text", "fontSize": 4, "fontWeight": "bold", "align": "left", "baseline": "top"}, "encoding": {"text": {"field": "t"}}}
           ]},
          {"width": 309, "height": 48, "view": {"stroke": "#999", "strokeWidth": 0.8},
           "encoding": {"x": {"field": "x", "type": "quantitative", "scale": {"domain": [-0.12, 9.18], "reverse": true, "nice": false, "zero": false}, "axis": null},
                        "y": {"field": "y", "type": "quantitative", "scale": {"domain": [-0.1, 1], "nice": false, "zero": false}, "axis": null}},
           "layer": [
             {"data": {"name": "nmr"}, "transform": [{"filter": "datum.p==2"}], "mark": {"type": "line", "color": "#444", "strokeWidth": 0.6, "clip": true}},
             {"data": {"name": "nmrLab"}, "transform": [{"filter": "datum.p==2"}], "mark": {"type": "text", "color": "#f0302a", "fontSize": 3.8, "align": "left", "baseline": "middle"}, "encoding": {"text": {"field": "t"}}},
             {"data": {"name": "nmrNum"}, "transform": [{"filter": "datum.p==2"}], "mark": {"type": "text", "color": "#333", "fontSize": 3, "angle": 270, "align": "right", "baseline": "middle"}, "encoding": {"text": {"field": "t"}}},
             {"data": {"name": "nmrArrow"}, "transform": [{"filter": "datum.p==2"}], "mark": {"type": "rule", "color": "#111", "strokeWidth": 0.6}, "encoding": {"x2": {"field": "x2"}, "y2": {"field": "y2"}}},
             {"data": {"name": "nmrPanel"}, "transform": [{"filter": "datum.p==2"}], "mark": {"type": "text", "fontSize": 4, "fontWeight": "bold", "align": "left", "baseline": "top"}, "encoding": {"text": {"field": "t"}}}
           ]},
          {"width": 309, "height": 48, "view": {"stroke": "#999", "strokeWidth": 0.8},
           "encoding": {"x": {"field": "x", "type": "quantitative", "scale": {"domain": [-0.12, 9.18], "reverse": true, "nice": false, "zero": false}, "axis": null},
                        "y": {"field": "y", "type": "quantitative", "scale": {"domain": [-0.1, 1], "nice": false, "zero": false}, "axis": null}},
           "layer": [
             {"data": {"name": "nmr"}, "transform": [{"filter": "datum.p==3"}], "mark": {"type": "line", "color": "#444", "strokeWidth": 0.6, "clip": true}},
             {"data": {"name": "nmrLab"}, "transform": [{"filter": "datum.p==3"}], "mark": {"type": "text", "color": "#f0302a", "fontSize": 3.8, "align": "left", "baseline": "middle"}, "encoding": {"text": {"field": "t"}}},
             {"data": {"name": "nmrNum"}, "transform": [{"filter": "datum.p==3"}], "mark": {"type": "text", "color": "#333", "fontSize": 3, "angle": 270, "align": "right", "baseline": "middle"}, "encoding": {"text": {"field": "t"}}},
             {"data": {"name": "nmrArrow"}, "transform": [{"filter": "datum.p==3"}], "mark": {"type": "rule", "color": "#111", "strokeWidth": 0.6}, "encoding": {"x2": {"field": "x2"}, "y2": {"field": "y2"}}},
             {"data": {"name": "nmrPanel"}, "transform": [{"filter": "datum.p==3"}], "mark": {"type": "text", "fontSize": 4, "fontWeight": "bold", "align": "left", "baseline": "top"}, "encoding": {"text": {"field": "t"}}}
           ]},
          {"width": 309, "height": 48, "view": {"stroke": "#999", "strokeWidth": 0.8},
           "encoding": {"x": {"field": "x", "type": "quantitative", "scale": {"domain": [-0.12, 9.18], "reverse": true, "nice": false, "zero": false},
                              "axis": {"values": [0,0.5,1,1.5,2,2.5,3,3.5,4,4.5,5,5.5,6,6.5,7,7.5,8,8.5,9], "format": ".1f", "labelFontSize": 4.3, "labelFontWeight": "bold", "labelColor": "#555", "tickSize": 2.5, "tickColor": "#888", "domainColor": "#999", "title": "(ppm)", "titleFontSize": 4, "titleFontWeight": "normal", "titlePadding": 0.5}},
                        "y": {"field": "y", "type": "quantitative", "scale": {"domain": [-0.1, 1], "nice": false, "zero": false}, "axis": null}},
           "layer": [
             {"data": {"name": "nmr"}, "transform": [{"filter": "datum.p==4"}], "mark": {"type": "line", "color": "#444", "strokeWidth": 0.6, "clip": true}},
             {"data": {"name": "nmrLab"}, "transform": [{"filter": "datum.p==4"}], "mark": {"type": "text", "color": "#f0302a", "fontSize": 4, "align": "left", "baseline": "middle"}, "encoding": {"text": {"field": "t"}}},
             {"data": {"name": "nmrNum"}, "transform": [{"filter": "datum.p==4"}], "mark": {"type": "text", "color": "#333", "fontSize": 3, "angle": 270, "align": "right", "baseline": "middle"}, "encoding": {"text": {"field": "t"}}},
             {"data": {"name": "nmrArrow"}, "transform": [{"filter": "datum.p==4"}], "mark": {"type": "rule", "color": "#111", "strokeWidth": 0.6}, "encoding": {"x2": {"field": "x2"}, "y2": {"field": "y2"}}},
             {"data": {"name": "nmrPanel"}, "transform": [{"filter": "datum.p==4"}], "mark": {"type": "text", "fontSize": 4, "fontWeight": "bold", "align": "left", "baseline": "top"}, "encoding": {"text": {"field": "t"}}}
           ]}
        ]
      }
    ]
  },
  {
    "spacing": 9,
    "hconcat": [
      {"width": 22, "height": 2, "data": {"values": [{"t": "(B)"}]}, "mark": {"type": "text", "fontSize": 10, "fontWeight": "bold", "align": "center", "baseline": "bottom", "color": "#000"}, "encoding": {"text": {"field": "t"}}},
      {
        "spacing": 6,
        "hconcat": [
          {
            "spacing": 4,
            "vconcat": [
              {
                "title": {"text": "1)", "fontSize": 4.5},
                "bounds": "flush", "spacing": 6,
                "vconcat": [
                  {"width": 90, "height": 40,
                   "encoding": {"x": {"field": "x", "type": "quantitative", "scale": {"domain": [500, 4000], "reverse": true, "nice": false, "zero": false}, "axis": {"values": [4000,3500,3000,2500,2000,1500,1000,500], "labels": false, "title": null}},
                                "y": {"field": "y", "type": "quantitative", "scale": {"domain": [15, 105], "nice": false, "zero": false}, "axis": {"values": [20,30,40,50,60,70,80,90,100], "title": "PEG (%T)"}}},
                   "layer": [
                     {"data": {"name": "ftir"}, "transform": [{"filter": "datum.s=='1a'"}], "mark": {"type": "line", "color": "#22e022", "strokeWidth": 0.7, "clip": true}},
                     {"data": {"name": "ftirNum"}, "transform": [{"filter": "datum.s=='1a'"}], "mark": {"type": "text", "fontSize": 4.5, "align": "left", "baseline": "middle", "color": "#222"}, "encoding": {"text": {"field": "t"}}}
                   ]},
                  {"width": 90, "height": 43,
                   "encoding": {"x": {"field": "x", "type": "quantitative", "scale": {"domain": [500, 4000], "reverse": true, "nice": false, "zero": false}, "axis": {"values": [4000,3500,3000,2500,2000,1500,1000,500], "labels": false, "title": null}},
                                "y": {"field": "y", "type": "quantitative", "scale": {"domain": [32, 112], "nice": false, "zero": false}, "axis": {"values": [40,50,60,70,80,90,100,110], "title": "PEI (%T)"}}},
                   "layer": [
                     {"data": {"name": "ftir"}, "transform": [{"filter": "datum.s=='1b'"}], "mark": {"type": "line", "color": "#ff4a4a", "strokeWidth": 0.7, "clip": true}},
                     {"data": {"name": "ftirNum"}, "transform": [{"filter": "datum.s=='1b'"}], "mark": {"type": "text", "fontSize": 4.5, "align": "left", "baseline": "middle", "color": "#222"}, "encoding": {"text": {"field": "t"}}}
                   ]},
                  {"width": 90, "height": 47,
                   "encoding": {"x": {"field": "x", "type": "quantitative", "scale": {"domain": [500, 4000], "reverse": true, "nice": false, "zero": false}, "axis": {"values": [4000,3500,3000,2500,2000,1500,1000,500], "format": "d", "title": "Wave number (cm⁻¹)"}},
                                "y": {"field": "y", "type": "quantitative", "scale": {"domain": [-10, 108], "nice": false, "zero": false}, "axis": {"values": [0,20,40,60,80,100], "title": "CHT (%T)"}}},
                   "layer": [
                     {"data": {"name": "ftir"}, "transform": [{"filter": "datum.s=='1c'"}], "mark": {"type": "line", "color": "#333", "strokeWidth": 0.7, "clip": true}},
                     {"data": {"name": "ftirNum"}, "transform": [{"filter": "datum.s=='1c'"}], "mark": {"type": "text", "fontSize": 4.5, "align": "left", "baseline": "middle", "color": "#222"}, "encoding": {"text": {"field": "t"}}}
                   ]}
                ]
              },
              {
                "title": {"text": "3)"},
                "bounds": "flush", "spacing": 3,
                "vconcat": [
                  {"width": 88, "height": 40,
                   "encoding": {"x": {"field": "x", "type": "quantitative", "scale": {"domain": [700, 4000], "reverse": true, "nice": false, "zero": false}, "axis": {"values": [4000,3500,3000,2500,2000,1500,1000], "labels": false, "title": null}},
                                "y": {"field": "y", "type": "quantitative", "scale": {"domain": [5, 107], "nice": false, "zero": false}, "axis": {"values": [20,40,60,80,100], "title": "PEIT-PEG (%T)"}}},
                   "layer": [
                     {"data": {"name": "ftir"}, "transform": [{"filter": "datum.s=='3a'"}], "mark": {"type": "line", "color": "#ff22ff", "strokeWidth": 0.7, "clip": true}},
                     {"data": {"name": "ftirTxt"}, "transform": [{"filter": "datum.s=='3a'"}], "mark": {"type": "text", "fontSize": 2.2, "align": "center", "baseline": "middle", "color": "#222"}, "encoding": {"text": {"field": "t"}}},
                     {"data": {"name": "ftirRule"}, "transform": [{"filter": "datum.s=='3a'"}], "mark": {"type": "rule", "color": "#333", "strokeWidth": 0.4}, "encoding": {"x2": {"field": "x2"}, "y2": {"field": "y2"}}},
                     {"data": {"name": "ftirNum"}, "transform": [{"filter": "datum.s=='3a'"}], "mark": {"type": "text", "fontSize": 4, "align": "left", "baseline": "middle", "color": "#222"}, "encoding": {"text": {"field": "t"}}}
                   ]},
                  {"width": 88, "height": 43,
                   "encoding": {"x": {"field": "x", "type": "quantitative", "scale": {"domain": [700, 4000], "reverse": true, "nice": false, "zero": false}, "axis": {"values": [4000,3500,3000,2500,2000,1500,1000], "labels": false, "title": null}},
                                "y": {"field": "y", "type": "quantitative", "scale": {"domain": [-5, 110], "nice": false, "zero": false}, "axis": {"values": [20,40,60,80,100], "title": "LyP-1-PEG (%T)"}}},
                   "layer": [
                     {"data": {"name": "ftir"}, "transform": [{"filter": "datum.s=='3b'"}], "mark": {"type": "line", "color": "#00e0f0", "strokeWidth": 0.7, "clip": true}},
                     {"data": {"name": "ftirTxt"}, "transform": [{"filter": "datum.s=='3b'"}], "mark": {"type": "text", "fontSize": 2.2, "align": "center", "baseline": "middle", "color": "#222"}, "encoding": {"text": {"field": "t"}}},
                     {"data": {"name": "ftirRule"}, "transform": [{"filter": "datum.s=='3b'"}], "mark": {"type": "rule", "color": "#333", "strokeWidth": 0.4}, "encoding": {"x2": {"field": "x2"}, "y2": {"field": "y2"}}},
                     {"data": {"name": "ftirNum"}, "transform": [{"filter": "datum.s=='3b'"}], "mark": {"type": "text", "fontSize": 4, "align": "left", "baseline": "middle", "color": "#222"}, "encoding": {"text": {"field": "t"}}}
                   ]},
                  {"width": 88, "height": 38,
                   "encoding": {"x": {"field": "x", "type": "quantitative", "scale": {"domain": [700, 4000], "reverse": true, "nice": false, "zero": false}, "axis": {"values": [4000,3500,3000,2500,2000,1500,1000], "format": "d", "title": "Wave number (cm⁻¹)"}},
                                "y": {"field": "y", "type": "quantitative", "scale": {"domain": [35, 112], "nice": false, "zero": false}, "axis": {"values": [40,50,60,70,80,90,100,110], "title": "PEG (%T)"}}},
                   "layer": [
                     {"data": {"name": "ftir"}, "transform": [{"filter": "datum.s=='3c'"}], "mark": {"type": "line", "color": "#22e022", "strokeWidth": 0.7, "clip": true}},
                     {"data": {"name": "ftirTxt"}, "transform": [{"filter": "datum.s=='3c'"}], "mark": {"type": "text", "fontSize": 2.2, "align": "center", "baseline": "middle", "color": "#222"}, "encoding": {"text": {"field": "t"}}},
                     {"data": {"name": "ftirRule"}, "transform": [{"filter": "datum.s=='3c'"}], "mark": {"type": "rule", "color": "#333", "strokeWidth": 0.4}, "encoding": {"x2": {"field": "x2"}, "y2": {"field": "y2"}}}
                   ]}
                ]
              }
            ]
          },
          {
            "spacing": 1,
            "vconcat": [
              {
                "title": {"text": "2)"},
                "bounds": "flush", "spacing": 4,
                "vconcat": [
                  {"width": 96, "height": 47,
                   "encoding": {"x": {"field": "x", "type": "quantitative", "scale": {"domain": [650, 4000], "reverse": true, "nice": false, "zero": false}, "axis": {"values": [4000,3500,3000,2500,2000,1500,1000], "labels": false, "title": null}},
                                "y": {"field": "y", "type": "quantitative", "scale": {"domain": [50, 111], "nice": false, "zero": false}, "axis": {"values": [60,70,80,90,100,110], "title": "CHT-PEI (%T)"}}},
                   "layer": [
                     {"data": {"name": "ftir"}, "transform": [{"filter": "datum.s=='2a'"}], "mark": {"type": "line", "color": "#5555ff", "strokeWidth": 0.7, "clip": true}},
                     {"data": {"name": "ftirNum"}, "transform": [{"filter": "datum.s=='2a'"}], "mark": {"type": "text", "fontSize": 4.5, "align": "left", "baseline": "middle", "color": "#222"}, "encoding": {"text": {"field": "t"}}}
                   ]},
                  {"width": 96, "height": 46,
                   "encoding": {"x": {"field": "x", "type": "quantitative", "scale": {"domain": [650, 4000], "reverse": true, "nice": false, "zero": false}, "axis": {"values": [4000,3500,3000,2500,2000,1500,1000], "labels": false, "title": null}},
                                "y": {"field": "y", "type": "quantitative", "scale": {"domain": [35, 112], "nice": false, "zero": false}, "axis": {"values": [40,50,60,70,80,90,100,110], "title": "PEI (%T)"}}},
                   "layer": [
                     {"data": {"name": "ftir"}, "transform": [{"filter": "datum.s=='2b'"}], "mark": {"type": "line", "color": "#ff4a4a", "strokeWidth": 0.7, "clip": true}}
                   ]},
                  {"width": 96, "height": 48,
                   "encoding": {"x": {"field": "x", "type": "quantitative", "scale": {"domain": [650, 4000], "reverse": true, "nice": false, "zero": false}, "axis": {"values": [4000,3500,3000,2500,2000,1500,1000], "format": "d", "title": "Wave number (cm⁻¹)"}},
                                "y": {"field": "y", "type": "quantitative", "scale": {"domain": [-5, 105], "nice": false, "zero": false}, "axis": {"values": [0,20,40,60,80,100], "title": "CHT (%T)"}}},
                   "layer": [
                     {"data": {"name": "ftir"}, "transform": [{"filter": "datum.s=='2c'"}], "mark": {"type": "line", "color": "#333", "strokeWidth": 0.7, "clip": true}}
                   ]}
                ]
              },
              {
                "title": {"text": "4)", "offset": 4},
                "bounds": "flush", "spacing": 3,
                "vconcat": [
                  {"width": 156, "height": 38,
                   "encoding": {"x": {"field": "x", "type": "quantitative", "scale": {"domain": [620, 4000], "reverse": true, "nice": false, "zero": false}, "axis": {"values": [4000,3500,3000,2500,2000,1500,1000], "labels": false, "title": null}},
                                "y": {"field": "y", "type": "quantitative", "scale": {"domain": [45, 115], "nice": false, "zero": false}, "axis": {"values": [50,60,70,80,90,100,110], "title": "LyP-1-PEG-PEI-CHT (%T)", "titleFontSize": 3.3}}},
                   "layer": [
                     {"data": {"name": "ftirRule"}, "transform": [{"filter": "datum.s=='4a' && datum.k=='pink'"}], "mark": {"type": "rule", "color": "#ff8fb0", "strokeWidth": 0.7, "strokeDash": [2, 1.5]}, "encoding": {"x2": {"field": "x2"}, "y2": {"field": "y2"}}},
                     {"data": {"name": "ftirRule"}, "transform": [{"filter": "datum.s=='4a' && datum.k=='red'"}], "mark": {"type": "rule", "color": "#ff3030", "strokeWidth": 0.6, "strokeDash": [2, 1.5]}, "encoding": {"x2": {"field": "x2"}, "y2": {"field": "y2"}}},
                     {"data": {"name": "ftirRule"}, "transform": [{"filter": "datum.s=='4a' && datum.k=='grey'"}], "mark": {"type": "rule", "color": "#888", "strokeWidth": 0.6, "strokeDash": [1, 1]}, "encoding": {"x2": {"field": "x2"}, "y2": {"field": "y2"}}},
                     {"data": {"name": "ftir"}, "transform": [{"filter": "datum.s=='4a'"}], "mark": {"type": "line", "color": "#ff9520", "strokeWidth": 0.7, "clip": true}},
                     {"data": {"name": "ftirRule"}, "transform": [{"filter": "datum.s=='4a' && datum.k=='arrow'"}], "mark": {"type": "rule", "color": "#ff3030", "strokeWidth": 0.6}, "encoding": {"x2": {"field": "x2"}, "y2": {"field": "y2"}}},
                     {"data": {"name": "ftirRule"}, "transform": [{"filter": "datum.s=='4a' && datum.k=='line'"}], "mark": {"type": "rule", "color": "#222", "strokeWidth": 0.5}, "encoding": {"x2": {"field": "x2"}, "y2": {"field": "y2"}}},
                     {"data": {"name": "ftirNum"}, "transform": [{"filter": "datum.s=='4a'"}], "mark": {"type": "text", "fontSize": 4.5, "align": "left", "baseline": "middle", "color": "#222"}, "encoding": {"text": {"field": "t"}}}
                   ]},
                  {"width": 156, "height": 41,
                   "encoding": {"x": {"field": "x", "type": "quantitative", "scale": {"domain": [620, 4000], "reverse": true, "nice": false, "zero": false}, "axis": {"values": [4000,3500,3000,2500,2000,1500,1000], "labels": false, "title": null}},
                                "y": {"field": "y", "type": "quantitative", "scale": {"domain": [15, 110], "nice": false, "zero": false}, "axis": {"values": [20,40,60,80,100], "title": "LyP-1-PEG (%T)"}}},
                   "layer": [
                     {"data": {"name": "ftirRule"}, "transform": [{"filter": "datum.s=='4b' && datum.k=='pink'"}], "mark": {"type": "rule", "color": "#ff8fb0", "strokeWidth": 0.7, "strokeDash": [2, 1.5]}, "encoding": {"x2": {"field": "x2"}, "y2": {"field": "y2"}}},
                     {"data": {"name": "ftirRule"}, "transform": [{"filter": "datum.s=='4b' && datum.k=='red'"}], "mark": {"type": "rule", "color": "#ff3030", "strokeWidth": 0.6, "strokeDash": [2, 1.5]}, "encoding": {"x2": {"field": "x2"}, "y2": {"field": "y2"}}},
                     {"data": {"name": "ftirRule"}, "transform": [{"filter": "datum.s=='4b' && datum.k=='grey'"}], "mark": {"type": "rule", "color": "#888", "strokeWidth": 0.6, "strokeDash": [1, 1]}, "encoding": {"x2": {"field": "x2"}, "y2": {"field": "y2"}}},
                     {"data": {"name": "ftir"}, "transform": [{"filter": "datum.s=='4b'"}], "mark": {"type": "line", "color": "#00e0f0", "strokeWidth": 0.7, "clip": true}},
                     {"data": {"name": "ftirRule"}, "transform": [{"filter": "datum.s=='4b' && datum.k=='arrow'"}], "mark": {"type": "rule", "color": "#ff3030", "strokeWidth": 0.6}, "encoding": {"x2": {"field": "x2"}, "y2": {"field": "y2"}}}
                   ]},
                  {"width": 156, "height": 42,
                   "encoding": {"x": {"field": "x", "type": "quantitative", "scale": {"domain": [620, 4000], "reverse": true, "nice": false, "zero": false}, "axis": {"values": [4000,3500,3000,2500,2000,1500,1000], "format": "d", "title": "Wave number (cm⁻¹)"}},
                                "y": {"field": "y", "type": "quantitative", "scale": {"domain": [35, 112], "nice": false, "zero": false}, "axis": {"values": [40,50,60,70,80,90,100,110], "title": "CHT-PEI (%T)"}}},
                   "layer": [
                     {"data": {"name": "ftirRule"}, "transform": [{"filter": "datum.s=='4c' && datum.k=='pink'"}], "mark": {"type": "rule", "color": "#ff8fb0", "strokeWidth": 0.7, "strokeDash": [2, 1.5]}, "encoding": {"x2": {"field": "x2"}, "y2": {"field": "y2"}}},
                     {"data": {"name": "ftirRule"}, "transform": [{"filter": "datum.s=='4c' && datum.k=='red'"}], "mark": {"type": "rule", "color": "#ff3030", "strokeWidth": 0.6, "strokeDash": [2, 1.5]}, "encoding": {"x2": {"field": "x2"}, "y2": {"field": "y2"}}},
                     {"data": {"name": "ftirRule"}, "transform": [{"filter": "datum.s=='4c' && datum.k=='grey'"}], "mark": {"type": "rule", "color": "#888", "strokeWidth": 0.6, "strokeDash": [1, 1]}, "encoding": {"x2": {"field": "x2"}, "y2": {"field": "y2"}}},
                     {"data": {"name": "ftir"}, "transform": [{"filter": "datum.s=='4c'"}], "mark": {"type": "line", "color": "#4848ff", "strokeWidth": 0.7, "clip": true}},
                     {"data": {"name": "ftirRule"}, "transform": [{"filter": "datum.s=='4c' && datum.k=='line'"}], "mark": {"type": "rule", "color": "#222", "strokeWidth": 0.5}, "encoding": {"x2": {"field": "x2"}, "y2": {"field": "y2"}}},
                     {"data": {"name": "ftirTxt"}, "transform": [{"filter": "datum.s=='4c'"}], "mark": {"type": "text", "fontSize": 2.5, "align": "center", "baseline": "middle", "color": "#222"}, "encoding": {"text": {"field": "t"}}}
                   ]}
                ]
              }
            ]
          }
        ]
      }
    ]
  }
]
}
